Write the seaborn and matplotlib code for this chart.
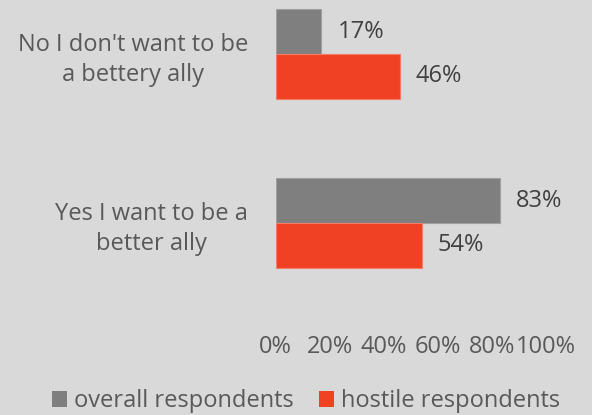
import matplotlib
matplotlib.use("Agg")
import matplotlib.pyplot as plt
from matplotlib.transforms import ScaledTranslation
import seaborn as sns
import pandas as pd

# Survey answers and share of respondents (percent)
categories = ["No I don't want to be\na bettery ally", "Yes I want to be a\nbetter ally"]
series = ["overall respondents", "hostile respondents"]
overall = [17, 83]
hostile = [46, 54]
x_ticks = [0, 20, 40, 60, 80, 100]
x_tick_labels = ["0%", "20%", "40%", "60%", "80%", "100%"]

colors = ["#7f7f7f", "#f04125"]
edge_colors = ["#a0a0a0", "#f47b66"]
bg = "#d9d9d9"
FS = 17

df = pd.DataFrame({
    "answer": categories * 2,
    "group": [series[0]] * len(categories) + [series[1]] * len(categories),
    "share": overall + hostile,
})

sns.set_theme(style="white")
plt.rcParams["font.family"] = ["Open Sans", "DejaVu Sans"]

W, H = 592, 415
fig = plt.figure(figsize=(W / 100, H / 100), dpi=100, facecolor=bg)
ax_left, ax_right = 275.5, 546.0
ax_top, ax_bottom = 0.0, 318.0
ax = fig.add_axes([ax_left / W, 1 - ax_bottom / H, (ax_right - ax_left) / W, (ax_bottom - ax_top) / H])
ax.set_facecolor(bg)

sns.barplot(data=df, y="answer", x="share", hue="group", hue_order=series,
            order=categories, palette=colors, width=0.527, orient="h",
            saturation=1, ax=ax, legend=False)

for cont, ec in zip(ax.containers, edge_colors):
    for bar in cont:
        bar.set_edgecolor(ec)
        bar.set_linewidth(0.8)
    ax.bar_label(cont, labels=[f"{v:.0f}%" for v in cont.datavalues],
                 padding=11.5, fontsize=FS, color="#404040")

# category centers at 54 px and 223 px from the top of the figure
unit = 223 - 54
ax.set_ylim(1 + (ax_bottom - 223) / unit, -(54 - ax_top) / unit)
ax.set_xlim(0, 100)
ax.set_xticks(x_ticks)
ax.set_xticklabels(x_tick_labels)
ax.tick_params(axis="x", length=0, pad=12, labelsize=FS, labelcolor="#595959")
ax.tick_params(axis="y", length=0, pad=19.8, labelsize=FS, labelcolor="#595959")
for lbl in ax.get_yticklabels():
    lbl.set_horizontalalignment("center")
    lbl.set_multialignment("center")
    lbl.set_linespacing(1.35)
ax.set_xlabel("")
ax.set_ylabel("")
for s in ax.spines.values():
    s.set_visible(False)

# centered category labels: shift so their right edge sits left of the axis
fig.canvas.draw()
for lbl in ax.get_yticklabels():
    bb = lbl.get_window_extent()
    lbl.set_transform(lbl.get_transform() + ScaledTranslation(-bb.width / 2 / 100, 0, fig.dpi_scale_trans))

handles = [plt.Rectangle((0, 0), 1, 1, facecolor=c, edgecolor="none") for c in colors]
fig.legend(handles, series, loc="center", bbox_to_anchor=(306 / W, 1 - 401 / H),
           ncol=2, frameon=False, fontsize=FS, labelcolor="#595959",
           handlelength=0.65, handleheight=0.65, handletextpad=0.3, columnspacing=1.06)

fig.savefig("out.png", dpi=100, facecolor=bg)
